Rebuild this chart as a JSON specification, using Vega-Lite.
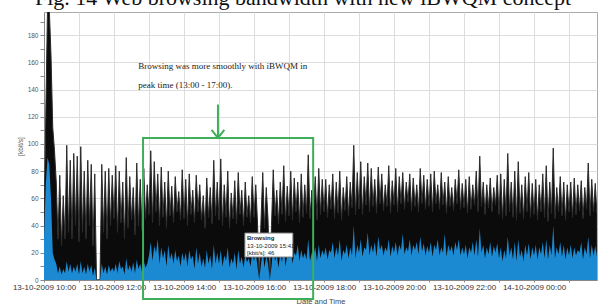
{
"$schema": "https://vega.github.io/schema/vega-lite/v6.json",
"width": 553, "height": 268,
"autosize": {"type": "none"},
"padding": {"left": 44, "top": 12, "right": 3, "bottom": 24},
"background": "white",
"config": {"view": {"stroke": "#aaa"}, "font": "Liberation Sans"},
"datasets": {"d": [
{"h":10,"k":40,"b":30},{"h":10.05,"k":120,"b":70},{"h":10.1,"k":200,"b":90},{"h":10.15,"k":200,"b":85},{"h":10.2,"k":165,"b":60},{"h":10.25,"k":112,"b":20},{"h":10.3,"k":95,"b":15},{"h":10.35,"k":72,"b":12},{"h":10.4,"k":30,"b":5},{"h":10.45,"k":77,"b":10},{"h":10.5,"k":25,"b":4},{"h":10.55,"k":62,"b":8},{"h":10.6,"k":30,"b":5},{"h":10.65,"k":99,"b":14},{"h":10.7,"k":35,"b":6},{"h":10.75,"k":88,"b":12},{"h":10.8,"k":30,"b":5},{"h":10.85,"k":93,"b":10},{"h":10.9,"k":40,"b":6},{"h":10.95,"k":91,"b":12},
{"h":11,"k":28,"b":4},{"h":11.05,"k":98,"b":14},{"h":11.1,"k":35,"b":5},{"h":11.15,"k":80,"b":10},{"h":11.2,"k":30,"b":4},{"h":11.25,"k":88,"b":12},{"h":11.3,"k":40,"b":6},{"h":11.35,"k":85,"b":11},{"h":11.4,"k":25,"b":3},{"h":11.45,"k":78,"b":9},{"h":11.5,"k":0,"b":0},{"h":11.55,"k":0,"b":0},{"h":11.6,"k":0,"b":0},{"h":11.65,"k":85,"b":12},{"h":11.7,"k":35,"b":5},{"h":11.75,"k":80,"b":10},{"h":11.8,"k":30,"b":4},{"h":11.85,"k":82,"b":11},{"h":11.9,"k":40,"b":6},{"h":11.95,"k":77,"b":9},
{"h":12,"k":45,"b":6},{"h":12.05,"k":84,"b":12},{"h":12.1,"k":35,"b":5},{"h":12.15,"k":80,"b":14},{"h":12.2,"k":42,"b":8},{"h":12.25,"k":72,"b":10},{"h":12.3,"k":30,"b":4},{"h":12.35,"k":90,"b":16},{"h":12.4,"k":38,"b":7},{"h":12.45,"k":76,"b":11},{"h":12.5,"k":44,"b":6},{"h":12.55,"k":68,"b":13},{"h":12.6,"k":33,"b":5},{"h":12.65,"k":86,"b":15},{"h":12.7,"k":40,"b":8},{"h":12.75,"k":74,"b":12},{"h":12.8,"k":36,"b":6},{"h":12.85,"k":82,"b":14},{"h":12.9,"k":45,"b":9},{"h":12.95,"k":70,"b":12},
{"h":13,"k":48,"b":18},{"h":13.05,"k":95,"b":28},{"h":13.1,"k":42,"b":14},{"h":13.15,"k":87,"b":25},{"h":13.2,"k":50,"b":20},{"h":13.25,"k":78,"b":30},{"h":13.3,"k":40,"b":12},{"h":13.35,"k":83,"b":24},{"h":13.4,"k":46,"b":16},{"h":13.45,"k":72,"b":22},{"h":13.5,"k":38,"b":10},{"h":13.55,"k":80,"b":26},{"h":13.6,"k":47,"b":15},{"h":13.65,"k":69,"b":20},{"h":13.7,"k":42,"b":12},{"h":13.75,"k":76,"b":22},{"h":13.8,"k":50,"b":14},{"h":13.85,"k":65,"b":18},{"h":13.9,"k":44,"b":10},{"h":13.95,"k":81,"b":20},
{"h":14,"k":45,"b":14},{"h":14.05,"k":74,"b":20},{"h":14.1,"k":40,"b":10},{"h":14.15,"k":78,"b":22},{"h":14.2,"k":48,"b":15},{"h":14.25,"k":66,"b":18},{"h":14.3,"k":42,"b":8},{"h":14.35,"k":77,"b":24},{"h":14.4,"k":50,"b":12},{"h":14.45,"k":70,"b":20},{"h":14.5,"k":44,"b":10},{"h":14.55,"k":62,"b":16},{"h":14.6,"k":38,"b":9},{"h":14.65,"k":75,"b":22},{"h":14.7,"k":46,"b":12},{"h":14.75,"k":68,"b":18},{"h":14.8,"k":41,"b":8},{"h":14.85,"k":88,"b":26},{"h":14.9,"k":47,"b":12},{"h":14.95,"k":72,"b":20},
{"h":15,"k":44,"b":12},{"h":15.05,"k":89,"b":22},{"h":15.1,"k":40,"b":10},{"h":15.15,"k":70,"b":18},{"h":15.2,"k":46,"b":14},{"h":15.25,"k":80,"b":24},{"h":15.3,"k":38,"b":9},{"h":15.35,"k":64,"b":16},{"h":15.4,"k":45,"b":12},{"h":15.45,"k":73,"b":20},{"h":15.5,"k":41,"b":8},{"h":15.55,"k":79,"b":22},{"h":15.6,"k":48,"b":12},{"h":15.65,"k":66,"b":17},{"h":15.7,"k":40,"b":9},{"h":15.75,"k":72,"b":19},{"h":15.8,"k":46,"b":13},{"h":15.85,"k":62,"b":16},{"h":15.9,"k":42,"b":10},{"h":15.95,"k":76,"b":20},
{"h":16,"k":46,"b":14},{"h":16.05,"k":70,"b":20},{"h":16.1,"k":42,"b":10},{"h":16.15,"k":0,"b":0},{"h":16.2,"k":44,"b":12},{"h":16.25,"k":79,"b":22},{"h":16.3,"k":38,"b":9},{"h":16.35,"k":68,"b":18},{"h":16.4,"k":45,"b":12},{"h":16.45,"k":0,"b":0},{"h":16.5,"k":40,"b":10},{"h":16.55,"k":81,"b":24},{"h":16.6,"k":47,"b":14},{"h":16.65,"k":66,"b":18},{"h":16.7,"k":41,"b":9},{"h":16.75,"k":72,"b":20},{"h":16.8,"k":48,"b":13},{"h":16.85,"k":84,"b":25},{"h":16.9,"k":43,"b":10},{"h":16.95,"k":69,"b":19},
{"h":17,"k":47,"b":16},{"h":17.05,"k":80,"b":24},{"h":17.1,"k":44,"b":12},{"h":17.15,"k":75,"b":20},{"h":17.2,"k":50,"b":18},{"h":17.25,"k":72,"b":26},{"h":17.3,"k":42,"b":14},{"h":17.35,"k":78,"b":22},{"h":17.4,"k":46,"b":16},{"h":17.45,"k":70,"b":20},{"h":17.5,"k":49,"b":15},{"h":17.55,"k":92,"b":30},{"h":17.6,"k":45,"b":14},{"h":17.65,"k":66,"b":20},{"h":17.7,"k":51,"b":18},{"h":17.75,"k":76,"b":24},{"h":17.8,"k":44,"b":14},{"h":17.85,"k":82,"b":26},{"h":17.9,"k":48,"b":16},{"h":17.95,"k":74,"b":22},
{"h":18,"k":50,"b":18},{"h":18.05,"k":74,"b":24},{"h":18.1,"k":46,"b":15},{"h":18.15,"k":70,"b":22},{"h":18.2,"k":52,"b":20},{"h":18.25,"k":78,"b":28},{"h":18.3,"k":45,"b":16},{"h":18.35,"k":72,"b":24},{"h":18.4,"k":49,"b":18},{"h":18.45,"k":80,"b":30},{"h":18.5,"k":44,"b":14},{"h":18.55,"k":68,"b":22},{"h":18.6,"k":51,"b":19},{"h":18.65,"k":76,"b":26},{"h":18.7,"k":47,"b":16},{"h":18.75,"k":72,"b":24},{"h":18.8,"k":53,"b":18},{"h":18.85,"k":99,"b":40},{"h":18.9,"k":48,"b":16},{"h":18.95,"k":79,"b":26},
{"h":19,"k":52,"b":20},{"h":19.05,"k":87,"b":30},{"h":19.1,"k":48,"b":17},{"h":19.15,"k":76,"b":24},{"h":19.2,"k":55,"b":22},{"h":19.25,"k":86,"b":35},{"h":19.3,"k":50,"b":18},{"h":19.35,"k":82,"b":26},{"h":19.4,"k":54,"b":20},{"h":19.45,"k":74,"b":28},{"h":19.5,"k":49,"b":17},{"h":19.55,"k":83,"b":32},{"h":19.6,"k":56,"b":22},{"h":19.65,"k":78,"b":26},{"h":19.7,"k":51,"b":18},{"h":19.75,"k":70,"b":24},{"h":19.8,"k":54,"b":21},{"h":19.85,"k":84,"b":30},{"h":19.9,"k":49,"b":17},{"h":19.95,"k":73,"b":25},
{"h":20,"k":55,"b":20},{"h":20.05,"k":82,"b":28},{"h":20.1,"k":50,"b":18},{"h":20.15,"k":76,"b":26},{"h":20.2,"k":56,"b":22},{"h":20.25,"k":79,"b":34},{"h":20.3,"k":52,"b":19},{"h":20.35,"k":72,"b":24},{"h":20.4,"k":57,"b":21},{"h":20.45,"k":78,"b":30},{"h":20.5,"k":51,"b":18},{"h":20.55,"k":75,"b":26},{"h":20.6,"k":54,"b":22},{"h":20.65,"k":70,"b":28},{"h":20.7,"k":50,"b":19},{"h":20.75,"k":82,"b":32},{"h":20.8,"k":56,"b":21},{"h":20.85,"k":77,"b":27},{"h":20.9,"k":52,"b":18},{"h":20.95,"k":74,"b":25},
{"h":21,"k":54,"b":20},{"h":21.05,"k":78,"b":28},{"h":21.1,"k":50,"b":17},{"h":21.15,"k":80,"b":26},{"h":21.2,"k":56,"b":22},{"h":21.25,"k":70,"b":30},{"h":21.3,"k":52,"b":18},{"h":21.35,"k":79,"b":24},{"h":21.4,"k":55,"b":20},{"h":21.45,"k":72,"b":34},{"h":21.5,"k":49,"b":17},{"h":21.55,"k":76,"b":26},{"h":21.6,"k":54,"b":21},{"h":21.65,"k":68,"b":25},{"h":21.7,"k":51,"b":18},{"h":21.75,"k":74,"b":28},{"h":21.8,"k":56,"b":22},{"h":21.85,"k":81,"b":30},{"h":21.9,"k":52,"b":18},{"h":21.95,"k":71,"b":24},
{"h":22,"k":53,"b":19},{"h":22.05,"k":74,"b":26},{"h":22.1,"k":49,"b":16},{"h":22.15,"k":76,"b":24},{"h":22.2,"k":52,"b":20},{"h":22.25,"k":70,"b":28},{"h":22.3,"k":55,"b":18},{"h":22.35,"k":80,"b":30},{"h":22.4,"k":50,"b":17},{"h":22.45,"k":91,"b":38},{"h":22.5,"k":54,"b":20},{"h":22.55,"k":72,"b":26},{"h":22.6,"k":48,"b":16},{"h":22.65,"k":70,"b":24},{"h":22.7,"k":53,"b":19},{"h":22.75,"k":75,"b":28},{"h":22.8,"k":50,"b":17},{"h":22.85,"k":68,"b":25},{"h":22.9,"k":55,"b":20},{"h":22.95,"k":77,"b":27},
{"h":23,"k":48,"b":16},{"h":23.05,"k":78,"b":24},{"h":23.1,"k":45,"b":14},{"h":23.15,"k":74,"b":22},{"h":23.2,"k":47,"b":16},{"h":23.25,"k":93,"b":32},{"h":23.3,"k":50,"b":18},{"h":23.35,"k":72,"b":24},{"h":23.4,"k":46,"b":15},{"h":23.45,"k":80,"b":28},{"h":23.5,"k":44,"b":14},{"h":23.55,"k":87,"b":30},{"h":23.6,"k":49,"b":17},{"h":23.65,"k":70,"b":22},{"h":23.7,"k":45,"b":14},{"h":23.75,"k":76,"b":26},{"h":23.8,"k":50,"b":18},{"h":23.85,"k":79,"b":27},{"h":23.9,"k":46,"b":15},{"h":23.95,"k":71,"b":24},
{"h":24,"k":48,"b":18},{"h":24.05,"k":74,"b":26},{"h":24.1,"k":44,"b":15},{"h":24.15,"k":70,"b":24},{"h":24.2,"k":50,"b":19},{"h":24.25,"k":78,"b":28},{"h":24.3,"k":46,"b":16},{"h":24.35,"k":84,"b":30},{"h":24.4,"k":43,"b":15},{"h":24.45,"k":72,"b":26},{"h":24.5,"k":49,"b":18},{"h":24.55,"k":97,"b":40},{"h":24.6,"k":45,"b":16},{"h":24.65,"k":68,"b":24},{"h":24.7,"k":50,"b":19},{"h":24.75,"k":76,"b":28},{"h":24.8,"k":47,"b":17},{"h":24.85,"k":72,"b":26},{"h":24.9,"k":44,"b":15},{"h":24.95,"k":70,"b":24},
{"h":25,"k":50,"b":18},{"h":25.05,"k":72,"b":26},{"h":25.1,"k":46,"b":16},{"h":25.15,"k":75,"b":24},{"h":25.2,"k":48,"b":18},{"h":25.25,"k":70,"b":22},{"h":25.3,"k":51,"b":20},{"h":25.35,"k":73,"b":28},{"h":25.4,"k":45,"b":15},{"h":25.45,"k":68,"b":24},{"h":25.5,"k":52,"b":19},{"h":25.55,"k":86,"b":32},{"h":25.6,"k":47,"b":16},{"h":25.65,"k":74,"b":26},{"h":25.7,"k":50,"b":18},{"h":25.75,"k":71,"b":25},{"h":25.8,"k":48,"b":17}
]},
"layer": [
{"data": {"name": "d"},
 "mark": {"type": "area", "color": "#0b0b0b", "stroke": "#2a2a2a", "strokeWidth": 1, "clip": true, "interpolate": "linear"},
 "encoding": {
  "x": {"field": "h", "type": "quantitative",
   "scale": {"domain": [10, 25.8], "nice": false, "zero": false},
   "axis": {"values": [10,11,12,13,14,15,16,17,18,19,20,21,22,23,24,25], "tickCount": 100,
    "labelExpr": "datum.value % 2 == 0 ? (datum.value < 24 ? '13-10-2009 ' : '14-10-2009 ') + (datum.value % 24 < 10 ? '0' : '') + (datum.value % 24) + ':00' : ''",
    "labelFontSize": 8, "labelColor": "#333", "labelOverlap": false, "labelFlush": false, "labelPadding": 1,
    "tickSize": 2, "tickColor": "#888", "domainColor": "#888", "gridColor": "#ddd",
    "title": "Date and Time", "titleFontSize": 7.5, "titleFontWeight": "normal", "titleColor": "#444", "titlePadding": 6}},
  "y": {"field": "k", "type": "quantitative",
   "scale": {"domain": [0, 197], "nice": false},
   "axis": {"values": [0,10,20,30,40,50,60,70,80,90,100,110,120,130,140,150,160,170,180,190], "tickCount": 100,
    "labelExpr": "datum.value % 20 == 0 ? '' + datum.value : ''",
    "labelFontSize": 6.5, "labelColor": "#555", "labelOverlap": false, "tickSize": 4, "tickColor": "#888", "domainColor": "#888",
    "gridColor": "#ddd", "gridOpacity": {"condition": {"test": "datum.value % 20 != 0", "value": 0}, "value": 1},
    "labelPadding": 2,
    "title": "[kbit/s]", "titleFontSize": 6.5, "titleFontWeight": "normal", "titleColor": "#555", "titlePadding": 4}}
 }},
{"data": {"name": "d"},
 "mark": {"type": "area", "color": "#1b8ad2", "clip": true, "interpolate": "linear"},
 "encoding": {"x": {"field": "h", "type": "quantitative"}, "y": {"field": "b", "type": "quantitative"}}},
{"data": {"values": [{}]},
 "mark": {"type": "text", "text": "Fig. 14 Web browsing bandwidth with new iBWQM concept", "font": "Liberation Serif", "fontSize": 22, "align": "center", "baseline": "alphabetic", "color": "#111"},
 "encoding": {"x": {"datum": 17.4, "type": "quantitative"}, "y": {"datum": 202, "type": "quantitative"}}},
{"data": {"values": [{}]},
 "mark": {"type": "rect", "filled": false, "stroke": "#3dae5a", "strokeWidth": 2},
 "encoding": {"x": {"datum": 12.83, "type": "quantitative"}, "x2": {"datum": 17.69}, "y": {"datum": 104.3, "type": "quantitative"}, "y2": {"datum": -14}}},
{"data": {"values": [{}]},
 "mark": {"type": "rule", "stroke": "#3dae5a", "strokeWidth": 2},
 "encoding": {"x": {"datum": 14.97, "type": "quantitative"}, "y": {"datum": 129, "type": "quantitative"}, "y2": {"datum": 105}}},
{"data": {"values": [{}]},
 "mark": {"type": "point", "shape": "M-0.8,-1L0,0L0.8,-1", "filled": false, "stroke": "#3dae5a", "strokeWidth": 2, "size": 256, "opacity": 1},
 "encoding": {"x": {"datum": 14.97, "type": "quantitative"}, "y": {"datum": 104.5, "type": "quantitative"}}},
{"data": {"values": [{}]},
 "mark": {"type": "text", "text": "Browsing was more smoothly with iBWQM in", "font": "Liberation Serif", "fontSize": 9, "align": "left", "baseline": "middle", "color": "#222"},
 "encoding": {"x": {"datum": 12.69, "type": "quantitative"}, "y": {"datum": 157, "type": "quantitative"}}},
{"data": {"values": [{}]},
 "mark": {"type": "text", "text": "peak time (13:00 - 17:00).", "font": "Liberation Serif", "fontSize": 9, "align": "left", "baseline": "middle", "color": "#222"},
 "encoding": {"x": {"datum": 12.69, "type": "quantitative"}, "y": {"datum": 143, "type": "quantitative"}}},
{"data": {"values": [{}]},
 "mark": {"type": "rect", "fill": "white", "stroke": "#888", "strokeWidth": 1},
 "encoding": {"x": {"datum": 15.74, "type": "quantitative"}, "x2": {"datum": 17.11}, "y": {"datum": 34.5, "type": "quantitative"}, "y2": {"datum": 16.9}}},
{"data": {"values": [{}]},
 "mark": {"type": "text", "text": "Browsing", "fontSize": 6, "fontWeight": "bold", "align": "left", "baseline": "middle", "color": "#222"},
 "encoding": {"x": {"datum": 15.8, "type": "quantitative"}, "y": {"datum": 30.8, "type": "quantitative"}}},
{"data": {"values": [{}]},
 "mark": {"type": "text", "text": "13-10-2009 15:41", "fontSize": 6, "align": "left", "baseline": "middle", "color": "#222"},
 "encoding": {"x": {"datum": 15.8, "type": "quantitative"}, "y": {"datum": 25.2, "type": "quantitative"}}},
{"data": {"values": [{}]},
 "mark": {"type": "text", "text": "[kbit/s]: 46", "fontSize": 6, "align": "left", "baseline": "middle", "color": "#222"},
 "encoding": {"x": {"datum": 15.8, "type": "quantitative"}, "y": {"datum": 20.0, "type": "quantitative"}}}
]
}
